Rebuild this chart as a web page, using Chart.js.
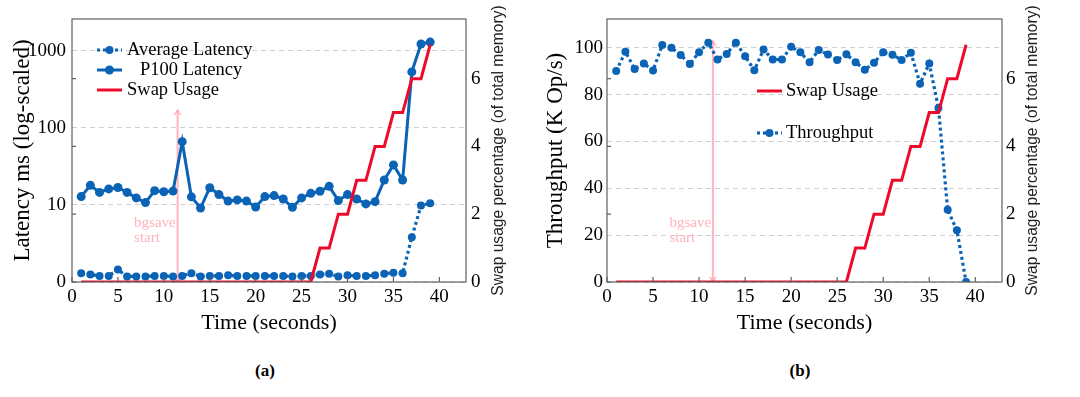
<!DOCTYPE html>
<html>
<head>
<meta charset="utf-8">
<script src="https://cdn.jsdelivr.net/npm/chart.js@4.4.1/dist/chart.umd.min.js"></script>
<style>
html, body { margin: 0; padding: 0; background: #fff; }
body { width: 1080px; height: 397px; position: relative; overflow: hidden; }
.panel { position: absolute; top: 0; width: 540px; height: 340px; }
.cap { position: absolute; top: 361px; width: 60px; text-align: center; font: bold 17px "Liberation Serif", serif; color: #000; }
</style>
</head>
<body>
<div class="panel" style="left:0"><canvas id="latencyChart" width="540" height="340"></canvas></div>
<div class="panel" style="left:540px"><canvas id="throughputChart" width="540" height="340"></canvas></div>
<div class="cap" style="left:235px">(a)</div>
<div class="cap" style="left:770px">(b)</div>
<script>
// seconds since start
const time = [1, 2, 3, 4, 5, 6, 7, 8, 9, 10, 11, 12, 13, 14, 15, 16, 17, 18, 19, 20,
    21, 22, 23, 24, 25, 26, 27, 28, 29, 30, 31, 32, 33, 34, 35, 36, 37, 38, 39];

// latency in ms (left plot, log axis)
const avgLatency = [1.3, 1.25, 1.2, 1.2, 1.45, 1.18, 1.18, 1.18, 1.2, 1.2, 1.18, 1.2, 1.3, 1.18, 1.2, 1.2, 1.22, 1.2, 1.2, 1.2,
    1.2, 1.2, 1.2, 1.18, 1.2, 1.2, 1.25, 1.28, 1.18, 1.22, 1.2, 1.2, 1.22, 1.28, 1.32, 1.3, 3.8, 9.8, 10.5];
const p100Latency = [12.8, 17.9, 14.5, 16.1, 16.8, 14.5, 12.3, 10.7, 15.3, 14.8, 15.1, 66, 12.7, 9.1, 16.7, 13.6, 11.2, 11.6, 11.2, 9.4,
    12.8, 13.2, 11.9, 9.3, 12.3, 14.1, 15.0, 17.4, 11.4, 13.6, 11.9, 10.3, 11.0, 21, 33, 21, 530, 1220, 1290];

// K Op/s (right plot)
const throughput = [90.1, 98.3, 91, 93.3, 90.3, 101.2, 100, 96.9, 93.1, 98.1, 102.2, 95, 97.4, 102.2, 96.4, 90.4, 99.3, 95, 95, 100.4,
    98.1, 93.8, 99.1, 97.1, 94.8, 97.2, 93.8, 90.6, 93.6, 98.1, 97, 94.8, 97.9, 84.7, 93.3, 74.3, 30.8, 22.1, 0];

// swap usage, % of total memory (both plots)
const swapUsage = [0, 0, 0, 0, 0, 0, 0, 0, 0, 0, 0, 0, 0, 0, 0, 0, 0, 0, 0, 0,
    0, 0, 0, 0, 0, 0, 1, 1, 2, 2, 3, 3, 4, 4, 5, 5, 6, 6, 7];

const latencyTicks = [1, 10, 100, 1000];
const bgsaveTime = 11.5;

const BLUE = '#0b63b6';
const RED = '#ee0a2a';
const PINK = '#ffb3be';
const SERIF = '"Liberation Serif", "Times New Roman", serif';
const SANS = '"Liberation Sans", Arial, sans-serif';

Chart.defaults.font.family = SERIF;
Chart.defaults.color = '#000';

const tickFont = { family: SERIF, size: 19 };
const titleFont = { family: SERIF, size: 22 };
const yTitleFont = { family: SERIF, size: 23 };

function pairs(xs, ys)
{
    return xs.map((x, i) => ({ x: x, y: ys[i] }));
}

function dottedSet(label, values, axis)
{
    return {
        label: label, data: pairs(time, values), yAxisID: axis,
        borderColor: BLUE, backgroundColor: BLUE, borderWidth: 3.2, borderDash: [3, 3],
        pointRadius: 4, pointBorderWidth: 0, pointBackgroundColor: BLUE, order: 2
    };
}

function swapSet(axis)
{
    return {
        label: 'Swap Usage', data: pairs(time, swapUsage), yAxisID: axis,
        borderColor: RED, backgroundColor: RED, borderWidth: 3, pointRadius: 0, order: 0
    };
}

// frame, inner ticks, bgsave arrow, legend and right title
function decorations(cfg)
{
    return {
        id: 'decorations',
        beforeDatasetsDraw(chart)
        {
            const { ctx, scales } = chart;
            const x = scales.x.getPixelForValue(bgsaveTime);
            const yTop = scales.y.getPixelForValue(cfg.arrowTop);
            const yBot = scales.y.getPixelForValue(cfg.arrowBase);
            ctx.save();
            ctx.strokeStyle = PINK;
            ctx.lineWidth = 2;
            ctx.beginPath();
            ctx.moveTo(x, yBot);
            ctx.lineTo(x, yTop);
            ctx.stroke();
            ctx.lineWidth = 1.5;
            ctx.beginPath();
            ctx.moveTo(x - 3, yTop + 5); ctx.lineTo(x, yTop); ctx.lineTo(x + 3, yTop + 5);
            ctx.moveTo(x - 3, yBot - 5); ctx.lineTo(x, yBot); ctx.lineTo(x + 3, yBot - 5);
            ctx.stroke();
            ctx.fillStyle = PINK;
            ctx.font = '15px ' + SERIF;
            ctx.textAlign = 'left';
            ctx.textBaseline = 'middle';
            ctx.fillText('bgsave', x - 43.5, yBot - 59);
            ctx.fillText('start', x - 43.5, yBot - 44);
            ctx.restore();
        },
        afterDatasetsDraw(chart)
        {
            const { ctx, chartArea: a, scales } = chart;
            ctx.save();
            ctx.strokeStyle = '#606060';
            ctx.lineWidth = 1.2;
            ctx.setLineDash([]);
            ctx.strokeRect(a.left, a.top, a.right - a.left, a.bottom - a.top);
            ctx.beginPath();
            for (const t of scales.x.ticks)
            {
                const px = scales.x.getPixelForValue(t.value);
                ctx.moveTo(px, a.bottom);
                ctx.lineTo(px, a.bottom - 5);
            }
            for (const t of scales.y1.ticks)
            {
                const py = scales.y1.getPixelForValue(t.value);
                ctx.moveTo(a.left, py);
                ctx.lineTo(a.left + 4, py);
            }
            ctx.stroke();
            ctx.restore();
        },
        afterDraw(chart)
        {
            const { ctx, chartArea: a } = chart;
            ctx.save();
            for (const item of cfg.legend)
            {
                const ds = chart.data.datasets[item.ds];
                ctx.strokeStyle = ds.borderColor;
                ctx.lineWidth = ds.borderWidth;
                ctx.setLineDash(ds.borderDash || []);
                ctx.beginPath();
                ctx.moveTo(item.x0, item.y);
                ctx.lineTo(item.x1, item.y);
                ctx.stroke();
                ctx.setLineDash([]);
                if (ds.pointRadius > 0)
                {
                    ctx.fillStyle = ds.borderColor;
                    ctx.beginPath();
                    ctx.arc((item.x0 + item.x1) / 2, item.y, ds.pointRadius, 0, Math.PI * 2);
                    ctx.fill();
                }
                ctx.fillStyle = '#000';
                ctx.font = '18.5px ' + SERIF;
                ctx.textAlign = 'left';
                ctx.textBaseline = 'middle';
                ctx.fillText(ds.label, item.tx, item.y);
            }
            ctx.translate(cfg.rightTitleX, (a.top + a.bottom) / 2);
            ctx.rotate(-Math.PI / 2);
            ctx.fillStyle = '#222';
            ctx.font = '15.6px ' + SANS;
            ctx.textAlign = 'center';
            ctx.textBaseline = 'middle';
            ctx.fillText('Swap usage percentage (of total memory)', 0, 0);
            ctx.restore();
        }
    };
}

function timeAxis()
{
    return {
        type: 'linear', min: 0, max: 42.9,
        afterFit: s => { s.height = 58; },
        grid: { display: false, drawTicks: false },
        border: { display: false },
        ticks: { stepSize: 5, includeBounds: false, padding: 4, maxRotation: 0, font: tickFont, color: '#000' },
        title: { display: true, text: 'Time (seconds)', font: titleFont, color: '#000', padding: { top: 0, bottom: 4 } }
    };
}

function swapAxis(width, pad)
{
    return {
        type: 'linear', position: 'right', min: 0, max: 7.76,
        afterFit: s => { s.width = width; },
        grid: { drawOnChartArea: false, drawTicks: false },
        border: { display: false },
        ticks: { stepSize: 2, includeBounds: false, padding: pad, font: tickFont, color: '#000' }
    };
}

new Chart(document.getElementById('latencyChart'), {
    type: 'line',
    data: {
        datasets: [
            dottedSet('Average Latency', avgLatency, 'y'),
            {
                label: 'P100 Latency', data: pairs(time, p100Latency), yAxisID: 'y',
                borderColor: BLUE, backgroundColor: BLUE, borderWidth: 3,
                pointRadius: 4.5, pointBorderWidth: 0, pointBackgroundColor: BLUE, order: 1
            },
            swapSet('y1')
        ]
    },
    options: {
        responsive: false,
        animation: false,
        layout: { padding: { top: 19, left: 0, right: 0, bottom: 0 } },
        plugins: { legend: { display: false }, tooltip: { enabled: false } },
        scales: {
            x: timeAxis(),
            y: {
                type: 'logarithmic', position: 'left', min: 1, max: 2570,
                afterBuildTicks: s => { s.ticks = latencyTicks.map(v => ({ value: v })); },
                afterFit: s => { s.width = 72; },
                grid: { color: '#cfcfcf', lineWidth: 1, drawTicks: false },
                border: { display: false, dash: [5, 4] },
                ticks: { padding: 6, font: tickFont, color: '#000', callback: v => v === 1 ? '0' : String(v) },
                title: { display: true, text: 'Latency ms (log-scaled)', font: yTitleFont, color: '#000', padding: { top: 9, bottom: 0 } }
            },
            y1: swapAxis(74, 5)
        }
    },
    plugins: [decorations({
        arrowTop: 170, arrowBase: 1, rightTitleX: 499,
        legend: [
            { ds: 0, x0: 97, x1: 122, y: 50, tx: 127 },
            { ds: 1, x0: 97, x1: 122, y: 70, tx: 140 },
            { ds: 2, x0: 97, x1: 122, y: 90, tx: 127 }
        ]
    })]
});

new Chart(document.getElementById('throughputChart'), {
    type: 'line',
    data: {
        datasets: [
            swapSet('y1'),
            dottedSet('Throughput', throughput, 'y')
        ]
    },
    options: {
        responsive: false,
        animation: false,
        layout: { padding: { top: 19, left: 0, right: 0, bottom: 0 } },
        plugins: { legend: { display: false }, tooltip: { enabled: false } },
        scales: {
            x: timeAxis(),
            y: {
                type: 'linear', position: 'left', min: 0, max: 112.3,
                afterFit: s => { s.width = 67; },
                grid: { color: '#cfcfcf', lineWidth: 1, drawTicks: false },
                border: { display: false, dash: [5, 4] },
                ticks: { stepSize: 20, includeBounds: false, padding: 4, font: tickFont, color: '#000' },
                title: { display: true, text: 'Throughput (K Op/s)', font: yTitleFont, color: '#000', padding: { top: 2, bottom: 0 } }
            },
            y1: swapAxis(78, 4)
        }
    },
    plugins: [decorations({
        arrowTop: 103, arrowBase: 0, rightTitleX: 493,
        legend: [
            { ds: 0, x0: 217, x1: 242, y: 91, tx: 246 },
            { ds: 1, x0: 217, x1: 242, y: 133, tx: 246 }
        ]
    })]
});
</script>
</body>
</html>
